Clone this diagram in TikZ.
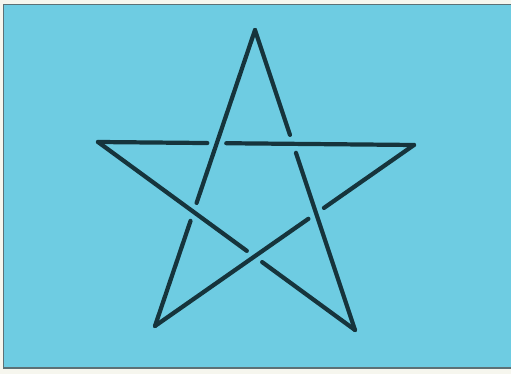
\documentclass[tikz,border=0pt]{standalone}
\usepackage{tikz}
\usepackage{xcolor}
\usetikzlibrary{calc}

\definecolor{paper}{RGB}{246,246,238}
\definecolor{sky}{RGB}{110,204,226}
\definecolor{ink}{RGB}{22,52,60}

\begin{document}
\begin{tikzpicture}
  \useasboundingbox (0,0) rectangle (10.22,7.48);
  \fill[paper] (0,0) rectangle (10.22,7.48);
  \draw[fill=sky, draw=ink!70, line width=0.6pt] (0.07,0.12) rectangle (10.30,7.39);

  \coordinate (T)  at (5.10,6.88);
  \coordinate (L)  at (1.96,4.64);
  \coordinate (R)  at (8.28,4.58);
  \coordinate (BL) at (3.10,0.96);
  \coordinate (BR) at (7.10,0.88);

  % each side passes under one other side
  \foreach \a/\b/\c/\d in {T/BL/L/BR, BL/R/T/BR, R/L/T/BL, L/BR/BL/R, BR/T/R/L}{
    \coordinate (X) at (intersection cs: first line={(\a)--(\b)}, second line={(\c)--(\d)});
    \draw[ink, line width=2.4pt, line cap=round] (\a) -- ($(X)!0.19cm!(\a)$);
    \draw[ink, line width=2.4pt, line cap=round] ($(X)!0.19cm!(\b)$) -- (\b);
  }
\end{tikzpicture}
\end{document}
